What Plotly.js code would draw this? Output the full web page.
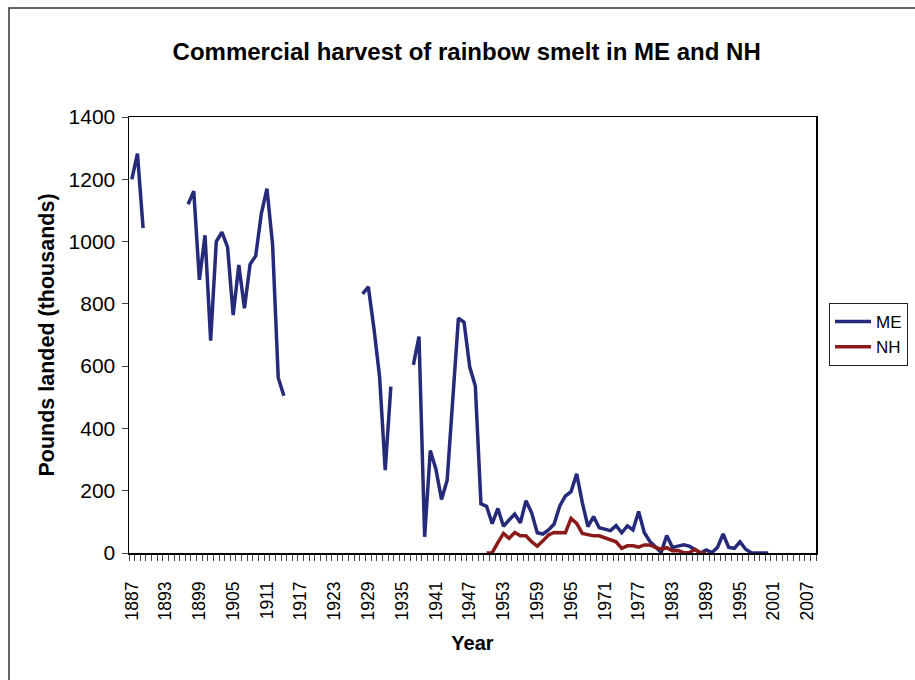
<!DOCTYPE html>
<html>
<head>
<meta charset="utf-8">
<script src="https://cdn.plot.ly/plotly-3.0.1.min.js"></script>
<style>
  html, body { margin: 0; padding: 0; background: #fff; }
  #chart { width: 915px; height: 680px; }
</style>
</head>
<body>
<div id="chart"></div>
<script>
// Maine landings (thousands of pounds); null = no data (line break)
const meYears = [1887,1888,1889,1890,
  1897,1898,1899,1900,1901,1902,1903,1904,1905,1906,1907,1908,1909,1910,1911,1912,1913,1914,1915,
  1928,1929,1930,1931,1932,1933,1934,
  1937,1938,1939,1940,1941,1942,1943,1944,1945,1946,1947,1948,1949,1950,
  1951,1952,1953,1954,1955,1956,1957,1958,1959,1960,1961,1962,1963,1964,1965,1966,1967,1968,1969,1970,
  1971,1972,1973,1974,1975,1976,1977,1978,1979,1980,1981,1982,1983,1984,1985,1986,1987,1988,1989,1990,
  1991,1992,1993,1994,1995,1996,1997,1998,1999,2000];
const meValues = [1200,1282,1043,null,
  1120,1162,877,1020,682,1000,1030,982,764,925,786,927,954,1090,1170,990,563,505,null,
  832,855,721,566,266,534,null,
  604,695,52,329,269,172,234,491,754,741,598,536,158,150,
  94,143,86,106,125,97,168,129,65,61,74,93,151,183,197,254,162,85,117,81,
  77,72,88,65,87,74,133,66,37,20,2,56,18,22,26,22,12,0,10,1,
  18,61,18,15,36,12,1,0,0,0];

// New Hampshire landings (thousands of pounds)
const nhYears = [1950,1951,1952,1953,1954,1955,1956,1957,1958,1959,1960,1961,1962,1963,1964,1965,1966,1967,1968,1969,1970,
  1971,1972,1973,1974,1975,1976,1977,1978,1979,1980,1981,1982,1983,1984,1985,1986,1987,1988,1989];
const nhValues = [0,1,33,63,47,66,55,55,36,22,39,58,66,65,65,111,95,63,60,55,55,
  49,42,36,15,23,23,19,26,26,18,12,17,7,8,1,1,12,0,0];

// Labelled years on the category axis
const xTickYears = [1887,1893,1899,1905,1911,1917,1923,1929,1935,1941,1947,1953,1959,1965,1971,1977,1983,1989,1995,2001,2007];
const yTickValues = [0,200,400,600,800,1000,1200,1400];

const FONT = 'Arial, "Liberation Sans", sans-serif';

const traces = [
  { x: meYears, y: meValues, name: 'ME', type: 'scatter', mode: 'lines', legendgroup: 'me',
    connectgaps: false, line: { color: '#262a7a', width: 3.5 } },
  { x: nhYears, y: nhValues, name: 'NH', type: 'scatter', mode: 'lines', legendgroup: 'nh',
    connectgaps: false, line: { color: '#8b1a1a', width: 3.5 } }
];

const layout = {
  width: 915, height: 680,
  margin: { l: 129, r: 99, t: 117, b: 127 },
  paper_bgcolor: '#fff', plot_bgcolor: '#fff',
  font: { family: FONT, color: '#000' },
  title: { text: '<b>Commercial harvest of rainbow smelt in ME and NH</b>',
    font: { family: FONT, size: 24, color: '#000' },
    x: 0.51, xref: 'container', xanchor: 'center',
    y: 1 - 52/680, yref: 'container', yanchor: 'middle' },
  showlegend: true,
  legend: { xref: 'container', yref: 'container',
    x: 829/915, xanchor: 'left', y: 1 - 303/680, yanchor: 'top',
    bordercolor: '#222', borderwidth: 1, bgcolor: '#fff',
    font: { family: FONT, size: 17, color: '#000' },
    itemwidth: 36, tracegroupgap: 6, traceorder: 'normal' },
  xaxis: {
    type: 'linear', range: [1886.5, 2008.5], autorange: false,
    tickmode: 'array', tickvals: xTickYears, ticktext: xTickYears.map(String),
    ticks: '', tickangle: -90, ticklabelstandoff: 20,
    tickfont: { family: FONT, size: 17.5, color: '#000' },
    minor: { ticks: 'outside', tickmode: 'linear', tick0: 1886.5, dtick: 1, ticklen: 6, tickwidth: 1, tickcolor: '#444', showgrid: false },
    showgrid: false, zeroline: false,
    showline: true, linecolor: '#000', linewidth: 1.5, mirror: true,
    title: { text: '<b>Year</b>', font: { family: FONT, size: 20, color: '#000' }, standoff: 16 },
    automargin: false, fixedrange: true
  },
  yaxis: {
    range: [0, 1400], autorange: false,
    tickmode: 'array', tickvals: yTickValues,
    ticks: 'outside', ticklen: 6, tickwidth: 1, tickcolor: '#444',
    ticklabelstandoff: 2,
    tickfont: { family: FONT, size: 21, color: '#000' },
    showgrid: false, zeroline: false,
    showline: true, linecolor: '#000', linewidth: 1.5, mirror: true,
    title: { text: '<b>Pounds landed (thousands)</b>', font: { family: FONT, size: 21.5, color: '#000' }, standoff: 8 },
    automargin: false, fixedrange: true
  },
  shapes: [
    { type: 'rect', xref: 'paper', yref: 'paper',
      x0: (9 - 129) / 687, x1: (925 - 129) / 687,
      y0: (553 - 700) / 436, y1: (553 - 8) / 436,
      line: { color: '#333', width: 1.5 }, fillcolor: 'rgba(0,0,0,0)', layer: 'below' }
  ]
};

Plotly.newPlot('chart', traces, layout, { displayModeBar: false, staticPlot: true });
</script>
</body>
</html>
